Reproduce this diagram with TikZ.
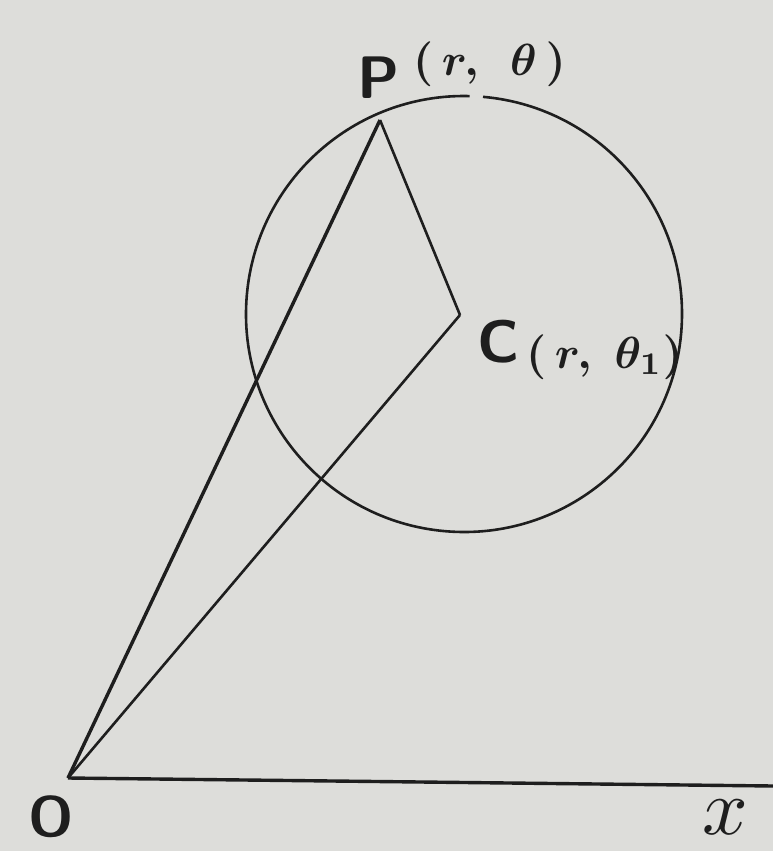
\documentclass[tikz,border=0pt]{standalone}
\usepackage{amsmath}
\usepackage{graphicx}
\definecolor{paper}{RGB}{221,221,218}
\definecolor{ink}{RGB}{30,30,30}
\begin{document}
\begin{tikzpicture}[x=1pt,y=-1pt,
  edge/.style={draw=ink,line width=3.4pt},
  thin edge/.style={draw=ink,line width=2.6pt},
  lbl/.style={text=ink,inner sep=0pt}]
\fill[paper] (0,0) rectangle (773,851);
\useasboundingbox (0,0) rectangle (773,851);
\coordinate (O) at (68,778);
\coordinate (P) at (380,120);
\coordinate (C) at (460,315);
\coordinate (X) at (773,786);
\coordinate (M) at (464,314);
\draw[thin edge] ([shift={(275:218)}]M) arc[start angle=275,end angle=631.5,radius=218];
\draw[edge] (O) -- (X);
\draw[edge] (O) -- (P);
\draw[thin edge] (O) -- (C);
\draw[thin edge] (P) -- (C);
\node[lbl,anchor=base west] (pl) at (357,99) {\scalebox{6}{\textsf{\textbf{P}}}};
\node[lbl,anchor=base west] (plc) at (413,76) {\scalebox{4.5}{\boldmath$(\,r,\;\,\theta\,)$}};
\node[lbl,anchor=base west] (cl) at (477,362) {\scalebox{6}{\textsf{\textbf{C}}}};
\node[lbl,anchor=base west] (clc) at (526,368) {\scalebox{4.5}{\boldmath$(\,r,\;\theta_1)$}};
\node[lbl,anchor=base] (ol) at (51,836) {\scalebox{5.7}{\textsf{\textbf{O}}}};
\node[lbl,anchor=base] (xl) at (725,834) {\scalebox{8}{$x$}};
\end{tikzpicture}
\end{document}
